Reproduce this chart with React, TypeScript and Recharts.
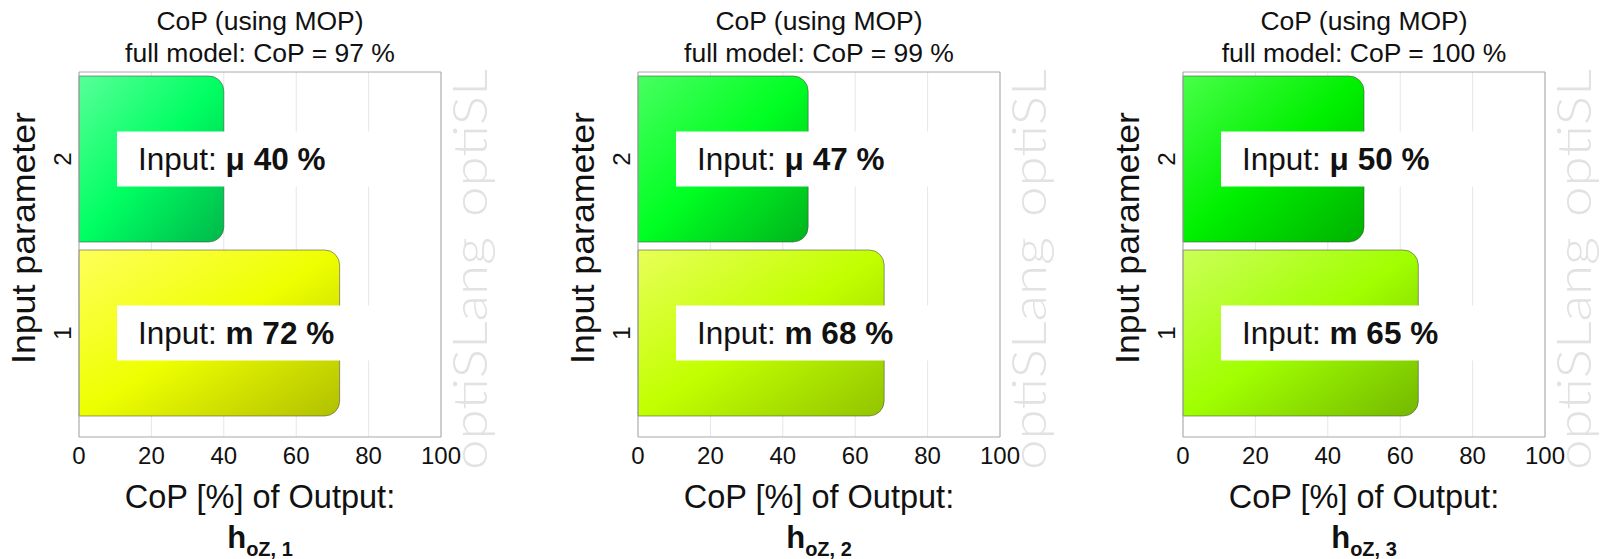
import React from "react";
import { BarChart, Bar, XAxis, YAxis, CartesianGrid, LabelList, Cell } from "recharts";

// input parameters (1 = m, 2 = μ) and their CoP per output
const PARAMS = [1, 2];
const INPUT_NAMES = ["m", "μ"];
const COP_BY_OUTPUT = [
  [72, 40],
  [68, 47],
  [65, 50],
];
const FULL_MODEL_COP = [97, 99, 100];
const OUTPUT_NAMES = ["1", "2", "3"];
const X_TICKS = [0, 20, 40, 60, 80, 100];

// [light, base, dark] per bar
const BAR_COLORS = [
  [
    ["#ffff5a", "#eeff00", "#b0c000"],
    ["#58ff98", "#00ff62", "#00b84a"],
  ],
  [
    ["#e8ff58", "#c2ff00", "#92c400"],
    ["#48ff60", "#00ff22", "#00b41c"],
  ],
  [
    ["#ccff58", "#a0ff00", "#74b800"],
    ["#48ff48", "#00f000", "#00b000"],
  ],
];

const FONT = "'Liberation Sans', Arial, Helvetica, sans-serif";
const PLOT_LEFT = [79, 638, 1183];
const ML = 90;
const PW = 362;
const CW = 530;
const CH = 559;
const MT = 72;
const MB = 122;
const AXIS = "#a8a8a8";
const TINY = 0.01;

function YTick(props: any) {
  const { x, y, payload } = props;
  const bx = x - 8;
  return (
    <text
      x={bx}
      y={y}
      transform={`rotate(-90, ${bx}, ${y})`}
      textAnchor="middle"
      fontSize={24}
      fontFamily={FONT}
      fill="#111"
    >
      {payload.value}
    </text>
  );
}

function Panel({ idx }: { idx: number }) {
  const data = PARAMS.map((p, i) => ({
    param: p,
    name: INPUT_NAMES[i],
    cop: COP_BY_OUTPUT[idx][i],
  }));
  const cx = ML + PW / 2;
  const right = ML + PW;
  const clipId = `wm-clip-${idx}`;
  const wmX = right + 46;

  const renderBox = (p: any) => {
    const { y, height, index } = p;
    const cy = Number(y) + Number(height) / 2;
    const d = data[index];
    return (
      <g>
        <rect x={ML + 38} y={cy - 27.5} width={253} height={55} fill="#fff" />
        <text x={ML + 59} y={cy + 11} fontSize={31.5} fontFamily={FONT} fill="#111">
          Input:{" "}
          <tspan fontWeight="bold">
            {d.name} {d.cop} %
          </tspan>
        </text>
      </g>
    );
  };

  return (
    <div style={{ position: "absolute", left: PLOT_LEFT[idx] - ML, top: 0 }}>
      <BarChart
        width={CW}
        height={CH}
        data={data}
        layout="vertical"
        margin={{ top: MT, right: CW - ML - PW, bottom: MB, left: ML }}
        barSize={166}
      >
        <defs>
          {BAR_COLORS[idx].map((c, i) => (
            <linearGradient key={i} id={`g-${idx}-${i}`} x1="0" y1="0" x2="1" y2="1">
              <stop offset="0%" stopColor={c[0]} />
              <stop offset="50%" stopColor={c[1]} />
              <stop offset="100%" stopColor={c[2]} />
            </linearGradient>
          ))}
          <clipPath id={clipId}>
            <rect x={right + 2} y={70} width={CW - right} height={CH - 70} />
          </clipPath>
        </defs>
        <CartesianGrid horizontal={false} stroke="#e6e6e6" />
        <XAxis
          type="number"
          domain={[0, 100]}
          ticks={X_TICKS}
          height={TINY}
          tickSize={0}
          tickMargin={10}
          tickLine={false}
          axisLine={{ stroke: AXIS }}
          tick={{ fontSize: 24, fontFamily: FONT, fill: "#111" }}
        />
        <XAxis
          xAxisId="top"
          orientation="top"
          type="number"
          domain={[0, 100]}
          height={TINY}
          tick={false}
          tickLine={false}
          axisLine={{ stroke: AXIS }}
        />
        <YAxis
          type="category"
          dataKey="param"
          reversed
          width={TINY}
          padding={{ top: 0, bottom: 17 }}
          tickSize={0}
          tickMargin={0}
          tickLine={false}
          axisLine={{ stroke: AXIS }}
          tick={<YTick />}
        />
        <YAxis
          yAxisId="right"
          orientation="right"
          type="category"
          dataKey="param"
          reversed
          mirror
          width={TINY}
          padding={{ top: 0, bottom: 17 }}
          tickSize={20}
          tick={false}
          tickLine={{ stroke: "#999" }}
          axisLine={{ stroke: AXIS }}
        />
        <Bar
          dataKey="cop"
          isAnimationActive={false}
          radius={[0, 15, 15, 0]}
          stroke="rgba(70,70,70,0.55)"
          strokeWidth={1}
        >
          {data.map((_, i) => (
            <Cell key={i} fill={`url(#g-${idx}-${i})`} />
          ))}
          <LabelList dataKey="cop" content={renderBox} />
        </Bar>

        <g clipPath={`url(#${clipId})`}>
          {[470, 217].map((sy, k) => (
            <text
              key={k}
              x={wmX}
              y={sy}
              transform={`rotate(-90, ${wmX}, ${sy})`}
              fontSize={48}
              textLength={233}
              lengthAdjust="spacingAndGlyphs"
              fontFamily="Lato, Roboto, 'Liberation Sans', sans-serif"
              fontWeight={300}
              fill="#e2e2e2"
            >
              optiSLang
            </text>
          ))}
        </g>

        <text x={cx} y={30} textAnchor="middle" fontSize={26.5} fontFamily={FONT} fill="#111">
          CoP (using MOP)
        </text>
        <text x={cx} y={62} textAnchor="middle" fontSize={26.5} fontFamily={FONT} fill="#111">
          full model: CoP = {FULL_MODEL_COP[idx]} %
        </text>
        <text x={cx} y={508} textAnchor="middle" fontSize={32.5} fontFamily={FONT} fill="#111">
          CoP [%] of Output:
        </text>
        <text x={cx} y={548} textAnchor="middle" fontSize={31} fontFamily={FONT} fontWeight="bold" fill="#111">
          h
          <tspan fontSize={20} dy={8}>
            oZ, {OUTPUT_NAMES[idx]}
          </tspan>
        </text>
        <text
          x={ML - 44}
          y={238}
          transform={`rotate(-90, ${ML - 44}, 238)`}
          textAnchor="middle"
          fontSize={33}
          textLength={252}
          lengthAdjust="spacingAndGlyphs"
          fontFamily={FONT}
          fill="#111"
        >
          Input parameter
        </text>
      </BarChart>
    </div>
  );
}

export default function App() {
  return (
    <div
      style={{
        position: "absolute",
        left: 0,
        top: 0,
        width: 1603,
        height: 559,
        overflow: "hidden",
        background: "#fff",
      }}
    >
      {OUTPUT_NAMES.map((_, i) => (
        <Panel key={i} idx={i} />
      ))}
    </div>
  );
}
